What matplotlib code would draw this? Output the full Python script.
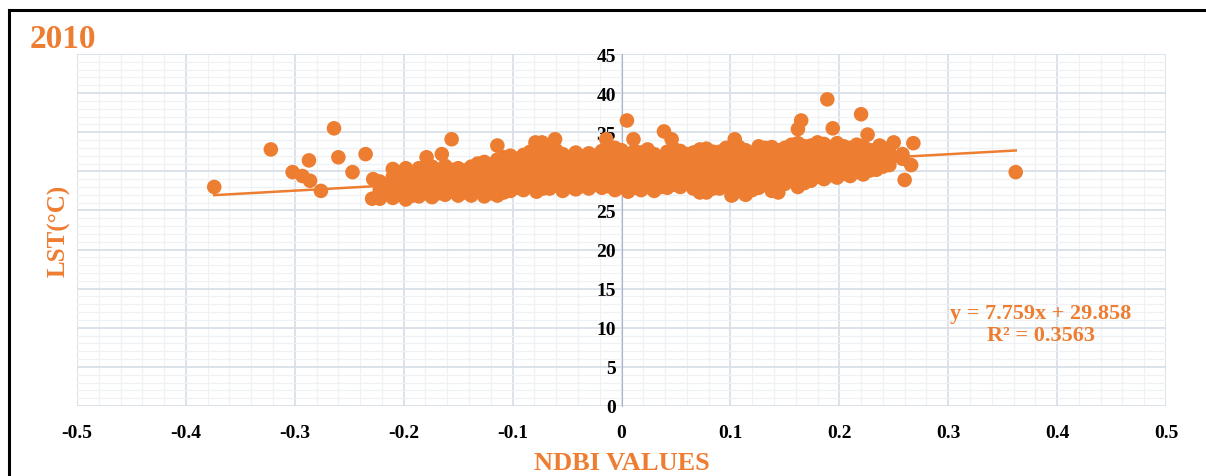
"""Scatter of LST against NDBI (2010) with a linear trendline, Excel style."""

import matplotlib
matplotlib.use("Agg")
import matplotlib.pyplot as plt
from matplotlib.lines import Line2D
from matplotlib.ticker import MultipleLocator

ORANGE = "#ED7D31"

# ---- data ---------------------------------------------------------------
# scattered points away from the main cloud
outlier_x = [-0.374, -0.322, -0.302, -0.293, -0.286, -0.287, -0.276, -0.264,
             -0.260, -0.247, -0.235, -0.228, -0.229, -0.179, -0.165, -0.156,
             -0.114, -0.079, -0.073, -0.061, -0.014, 0.005, 0.011, 0.039,
             0.046, 0.104, 0.165, 0.162, 0.189, 0.194, 0.220, 0.226, 0.237,
             0.250, 0.268, 0.266, 0.260, 0.362, 0.101, 0.114, 0.144, 0.072]
outlier_y = [28.0, 32.8, 29.9, 29.4, 28.8, 31.4, 27.5, 35.5,
             31.8, 29.9, 32.2, 29.0, 26.5, 31.8, 32.2, 34.1,
             33.3, 33.7, 33.7, 34.1, 34.1, 36.5, 34.1, 35.1,
             34.1, 34.1, 36.5, 35.4, 39.2, 35.5, 37.3, 34.7, 33.3,
             33.7, 33.6, 30.8, 28.9, 29.9, 26.9, 27.0, 27.3, 27.3]

# main cloud: NDBI columns and the LST values stacked in each column
cloud_x = [-0.222, -0.210, -0.198, -0.186, -0.174, -0.162, -0.150, -0.138,
           -0.126, -0.114, -0.102, -0.090, -0.078, -0.066, -0.054, -0.042,
           -0.030, -0.018, -0.006, 0.006, 0.018, 0.030, 0.042, 0.054,
           0.066, 0.078, 0.090, 0.102, 0.114, 0.126, 0.138, 0.150,
           0.162, 0.174, 0.186, 0.198, 0.210, 0.222, 0.234, 0.246, 0.258]
cloud_y = [
    [26.5, 27.6, 28.7],
    [26.6, 27.5, 28.4, 29.3, 30.3],
    [26.4, 27.3, 28.3, 29.2, 30.4],
    [26.8, 27.7, 28.6, 29.5, 30.4],
    [26.7, 27.8, 28.9, 29.8, 30.6],
    [27.0, 28.0, 28.9, 29.9, 30.7],
    [26.9, 27.8, 28.8, 29.7, 30.4],
    [26.9, 27.9, 28.9, 29.8, 30.6],
    [26.8, 27.7, 28.6, 29.6, 30.5, 31.2],
    [26.9, 27.8, 28.8, 29.8, 30.7, 31.5],
    [27.5, 28.4, 29.4, 30.3, 31.2, 32.0],
    [27.6, 28.6, 29.5, 30.4, 31.3, 32.1],
    [27.4, 28.3, 29.2, 30.1, 31.0, 31.9, 32.8],
    [27.8, 28.7, 29.6, 30.5, 31.4, 32.3, 33.2],
    [27.5, 28.5, 29.4, 30.4, 31.3, 32.2],
    [27.7, 28.6, 29.5, 30.5, 31.4, 32.4],
    [27.8, 28.7, 29.6, 30.6, 31.5, 32.3],
    [27.9, 28.8, 29.8, 30.7, 31.6, 32.6],
    [27.6, 28.5, 29.4, 30.4, 31.3, 32.3, 33.0],
    [27.4, 28.4, 29.3, 30.3, 31.2, 32.2],
    [27.6, 28.5, 29.5, 30.4, 31.4, 32.4],
    [27.5, 28.4, 29.4, 30.3, 31.3, 32.2],
    [27.9, 28.8, 29.7, 30.7, 31.6, 32.5],
    [28.0, 28.9, 29.8, 30.8, 31.7, 32.6],
    [27.8, 28.7, 29.6, 30.5, 31.5, 32.4],
    [27.3, 28.3, 29.3, 30.2, 31.1, 32.0, 32.9],
    [27.8, 28.7, 29.7, 30.6, 31.6, 32.5],
    [27.0, 28.0, 28.9, 29.9, 30.8, 31.7, 32.6],
    [27.1, 28.1, 29.0, 30.0, 30.9, 31.8, 32.7],
    [27.9, 28.8, 29.8, 30.7, 31.6, 32.5, 33.2],
    [27.5, 28.5, 29.4, 30.4, 31.3, 32.2, 33.1],
    [28.4, 29.3, 30.2, 31.1, 32.1, 33.0],
    [28.0, 29.0, 29.9, 30.9, 31.8, 32.7, 33.6],
    [28.8, 29.7, 30.6, 31.5, 32.4, 33.3],
    [29.0, 29.9, 30.8, 31.7, 32.6, 33.5],
    [29.2, 30.1, 31.0, 31.9, 32.8, 33.6],
    [29.4, 30.3, 31.2, 32.1, 33.0],
    [29.6, 30.5, 31.4, 32.3, 33.2],
    [30.2, 31.1, 32.0, 32.8],
    [30.8, 31.6, 32.4],
    [31.6, 32.2],
]

# second, staggered set of columns that fills the gaps of the first
cloud2_x = [-0.216, -0.204, -0.192, -0.180, -0.168, -0.156, -0.144, -0.132,
            -0.120, -0.108, -0.096, -0.084, -0.072, -0.060, -0.048, -0.036,
            -0.024, -0.012, 0.000, 0.012, 0.024, 0.036, 0.048, 0.060,
            0.072, 0.084, 0.096, 0.108, 0.120, 0.132, 0.144, 0.156,
            0.168, 0.180, 0.192, 0.204, 0.216, 0.228, 0.240]
cloud2_y = [
    [27.1, 28.1],
    [27.0, 28.0, 28.9, 29.8],
    [26.9, 27.8, 28.8, 29.8],
    [27.2, 28.2, 29.1, 30.0],
    [27.2, 28.3, 29.3, 30.2],
    [27.4, 28.4, 29.4, 30.2],
    [27.3, 28.3, 29.2, 30.1],
    [27.4, 28.4, 29.3, 30.2, 31.0],
    [27.2, 28.2, 29.1, 30.0, 30.9],
    [27.3, 28.3, 29.3, 30.2, 31.1, 31.8],
    [27.9, 28.9, 29.9, 30.8, 31.6],
    [28.1, 29.0, 30.0, 30.9, 31.7, 32.5],
    [27.8, 28.8, 29.7, 30.6, 31.5, 32.3],
    [28.2, 29.1, 30.0, 31.0, 31.9, 32.7],
    [28.0, 29.0, 29.9, 30.9, 31.8],
    [28.1, 29.1, 30.0, 31.0, 31.9],
    [28.3, 29.2, 30.1, 31.1, 32.0],
    [28.1, 29.3, 30.2, 31.2, 32.1, 33.0],
    [28.0, 28.9, 29.9, 30.8, 31.8, 32.7],
    [27.9, 28.9, 29.8, 30.8, 31.7, 32.6],
    [28.0, 29.0, 30.0, 30.9, 31.9, 32.8],
    [28.0, 28.9, 29.9, 30.8, 31.8],
    [28.3, 29.3, 30.2, 31.2, 32.1, 32.9],
    [28.4, 29.4, 30.3, 31.2, 32.2],
    [28.2, 29.2, 30.1, 31.0, 32.0, 32.8],
    [27.8, 28.8, 29.8, 30.7, 31.6, 32.5],
    [28.3, 29.2, 30.2, 31.1, 32.1, 33.0],
    [27.5, 28.5, 29.4, 30.4, 31.3, 32.2, 33.1],
    [27.6, 28.6, 29.5, 30.5, 31.4, 32.3],
    [28.4, 29.3, 30.3, 31.2, 32.1, 33.0],
    [28.0, 29.0, 29.9, 30.9, 31.8, 32.7],
    [28.9, 29.8, 30.7, 31.6, 32.6, 33.4],
    [28.5, 29.5, 30.4, 31.4, 32.3, 33.2],
    [29.3, 30.2, 31.1, 32.0, 32.9, 33.7],
    [29.5, 30.4, 31.3, 32.2, 33.1],
    [29.7, 30.6, 31.5, 32.4, 33.2],
    [29.9, 30.8, 31.7, 32.6, 33.4],
    [30.1, 31.0, 31.9, 32.7],
    [30.6, 31.5, 32.3, 33.0],
]

slope, intercept, r2 = 7.759, 29.858, 0.3563
x_ticks = [-0.5, -0.4, -0.3, -0.2, -0.1, 0, 0.1, 0.2, 0.3, 0.4, 0.5]
x_labels = ["-0.5", "-0.4", "-0.3", "-0.2", "-0.1", "0",
            "0.1", "0.2", "0.3", "0.4", "0.5"]
y_ticks = [0, 5, 10, 15, 20, 25, 30, 35, 40, 45]

# ---- flatten ------------------------------------------------------------
xs = list(outlier_x)
ys = list(outlier_y)
for cols_x, cols_y in [(cloud_x, cloud_y), (cloud2_x, cloud2_y)]:
    for cx, col in zip(cols_x, cols_y):
        for v in col:
            xs.append(cx)
            ys.append(v)

plt.rcParams["font.family"] = ["Liberation Serif", "DejaVu Serif"]

fig = plt.figure(figsize=(12.06, 4.77), dpi=100)
ax = fig.add_axes([77 / 1206, 1 - 407 / 477, (1166 - 77) / 1206, (407 - 55) / 477])

# the y axis crosses at x = 0 (set this before styling the tick labels)
for side in ["top", "right", "bottom"]:
    ax.spines[side].set_visible(False)
ax.spines["left"].set_position(("data", 0))
ax.spines["left"].set_color("#a9b6ca")
ax.spines["left"].set_linewidth(0.8)

x0, x1 = min(xs), max(xs)
ax.plot([x0, x1], [slope * x0 + intercept, slope * x1 + intercept],
        color=ORANGE, linewidth=1.8, zorder=2)
ax.scatter(xs, ys, s=110, color=ORANGE, edgecolors="none", zorder=3)

ax.set_xlim(-0.5, 0.5)
ax.set_ylim(0, 45)
ax.set_xticks(x_ticks)
ax.set_xticklabels(x_labels, fontsize=14, fontweight="bold")
ax.set_yticks(y_ticks)
ax.set_yticklabels([str(v) for v in y_ticks], fontsize=14, fontweight="bold")
ax.xaxis.set_minor_locator(MultipleLocator(0.02))
ax.yaxis.set_minor_locator(MultipleLocator(1))
ax.grid(which="major", color="#d9dfe8", linewidth=1.3, zorder=0)
ax.grid(which="minor", color="#eff1f4", linewidth=0.9, zorder=0)
ax.set_axisbelow(True)
ax.tick_params(which="both", length=0)
ax.tick_params(axis="x", pad=13)
ax.tick_params(axis="y", pad=4)

fig.text(622 / 1206, 1 - 464 / 477, "NDBI VALUES", fontsize=19,
         fontweight="bold", color=ORANGE, ha="center", va="center")
fig.text(59 / 1206, 1 - 231 / 477, "LST(°C)", rotation=90, fontsize=18,
         fontweight="bold", color=ORANGE, ha="center", va="center")
fig.text(30 / 1206, 1 - 40 / 477, "2010", fontsize=24, fontweight="bold",
         color=ORANGE, ha="left", va="center")

ax.text(1041 / 1206, 1 - 325 / 477,
        f"y = {slope}x + {intercept}\nR² = {r2}",
        transform=fig.transFigure, fontsize=16, fontweight="bold",
        color=ORANGE, ha="center", va="center", linespacing=1.15)

# black frame lines (left and top) around the chart
fig.add_artist(Line2D([9 / 1206, 9 / 1206], [0, 1 - 11 / 477],
                      color="black", linewidth=2.2))
fig.add_artist(Line2D([9 / 1206, 1], [1 - 11 / 477, 1 - 11 / 477],
                      color="black", linewidth=2.2))

fig.savefig("out.png", dpi=100)
